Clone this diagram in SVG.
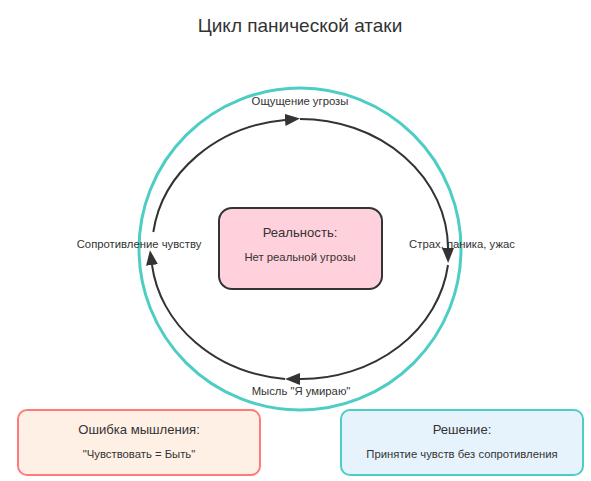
<svg xmlns="http://www.w3.org/2000/svg" width="591" height="481" viewBox="0 0 591 481">
<style>
text{font-family:"Liberation Sans",Arial,sans-serif;fill:#333;text-anchor:middle}
.title{font-size:19px}
.lbl{font-size:11.3px}
.h{font-size:13.1px}
.arc{fill:none;stroke:#333;stroke-width:2;marker-end:url(#ah)}
</style>
<defs>
<marker id="ah" viewBox="0 0 15 12" refX="0" refY="6" markerWidth="15" markerHeight="12" markerUnits="userSpaceOnUse" orient="auto">
<path d="M0,0 L15,6 L0,12 Z" fill="#333"/>
</marker>
</defs>
<rect width="591" height="481" fill="#fff"/>
<text class="title" x="300" y="32">Цикл панической атаки</text>
<g id="cycle-ring">
<circle cx="300" cy="249" r="161" fill="none" stroke="#4ecdc4" stroke-width="3"/>
</g>
<g id="connectors">
<path class="arc" d="M153.3,232 A148,130 0 0 1 285,119.9"/>
<path class="arc" d="M300,119 A148,130 0 0 1 448,248"/>
<path class="arc" d="M448,265 A148,130 0 0 1 300,379"/>
<path class="arc" d="M285,378.9 A148,130 0 0 1 152,265"/>
</g>
<g id="label-top"><text class="lbl" x="300" y="105">Ощущение угрозы</text></g>
<g id="label-right"><text class="lbl" x="462" y="248">Страх, паника, ужас</text></g>
<g id="label-bottom"><text class="lbl" x="301" y="395">Мысль "Я умираю"</text></g>
<g id="label-left"><text class="lbl" x="139" y="248">Сопротивление чувству</text></g>
<g id="reality">
<rect x="219" y="208" width="163" height="81" rx="13" fill="#ffd1dc" stroke="#333" stroke-width="2"/>
<text class="h" x="300" y="237">Реальность:</text>
<text class="lbl" x="300" y="261">Нет реальной угрозы</text>
</g>
<g id="error">
<rect x="18" y="410" width="242" height="65" rx="9" fill="#fff0e6" stroke="#ff7b7b" stroke-width="2"/>
<text class="h" x="139" y="434">Ошибка мышления:</text>
<text class="lbl" x="139" y="458">"Чувствовать = Быть"</text>
</g>
<g id="solution">
<rect x="341" y="410" width="242" height="65" rx="9" fill="#e6f3fd" stroke="#4ecdc4" stroke-width="2"/>
<text class="h" x="462" y="434">Решение:</text>
<text class="lbl" x="462" y="458">Принятие чувств без сопротивления</text>
</g>
</svg>
